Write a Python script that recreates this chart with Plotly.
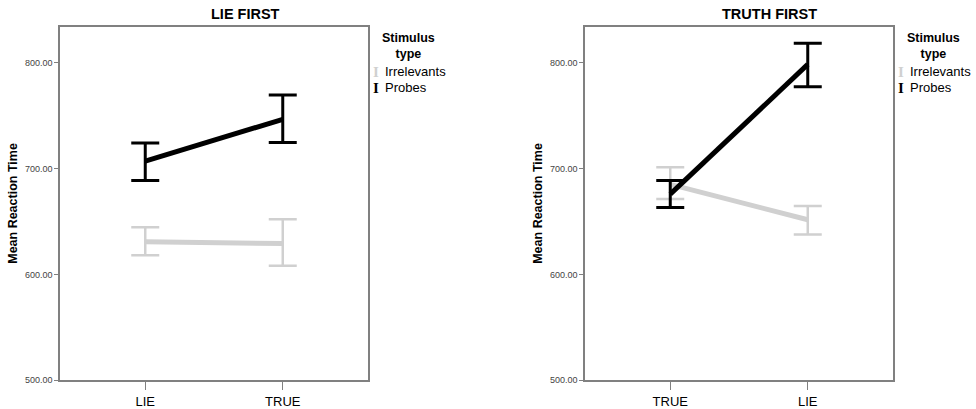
import plotly.graph_objects as go

# ---- data ----
lie_first_cats = ["LIE", "TRUE"]
lie_first_irr = [630.8, 629.2]
lie_first_irr_hi = [644.5, 652.2]
lie_first_irr_lo = [618.1, 608.2]
lie_first_prb = [706.9, 746.5]
lie_first_prb_hi = [724.2, 769.5]
lie_first_prb_lo = [688.8, 724.6]

truth_first_cats = ["TRUE", "LIE"]
truth_first_irr = [685.1, 651.6]
truth_first_irr_hi = [701.3, 664.6]
truth_first_irr_lo = [671.1, 637.6]
truth_first_prb = [675.8, 798.3]
truth_first_prb_hi = [688.8, 818.2]
truth_first_prb_lo = [663.1, 777.3]

y_ticks = [500, 600, 700, 800]
y_tick_text = ["500.00", "600.00", "700.00", "800.00"]
panel_titles = ["LIE FIRST", "TRUTH FIRST"]
series_names = ["Irrelevants", "Probes"]

GRAY = "#d0d0d0"
BLACK = "#000000"
FONT = "Liberation Sans, Arial, sans-serif"

fig = go.Figure()

def add_series(cats, mean, hi, lo, color, lw, ew, xa, ya, name):
    fig.add_trace(go.Scatter(
        x=cats, y=mean, mode="lines", name=name, showlegend=False,
        line=dict(color=color, width=lw),
        error_y=dict(type="data", symmetric=False,
                     array=[h - m for h, m in zip(hi, mean)],
                     arrayminus=[m - l for m, l in zip(mean, lo)],
                     color=color, thickness=ew, width=14),
        xaxis=xa, yaxis=ya))

add_series(lie_first_cats, lie_first_irr, lie_first_irr_hi, lie_first_irr_lo, GRAY, 5, 2.5, "x", "y", series_names[0])
add_series(lie_first_cats, lie_first_prb, lie_first_prb_hi, lie_first_prb_lo, BLACK, 5, 3, "x", "y", series_names[1])
add_series(truth_first_cats, truth_first_irr, truth_first_irr_hi, truth_first_irr_lo, GRAY, 5, 2.5, "x2", "y2", series_names[0])
add_series(truth_first_cats, truth_first_prb, truth_first_prb_hi, truth_first_prb_lo, BLACK, 5, 3, "x2", "y2", series_names[1])

W, H = 976, 409
ydom = [1 - 386 / H, 1 - 27 / H]
xdom1 = [60 / W, 368 / W]
xdom2 = [585 / W, 893 / W]

axis_common = dict(showline=True, linecolor="#808080", linewidth=1.5, mirror=True,
                   showgrid=False, zeroline=False, ticks="outside", tickcolor="#808080")

fig.update_layout(
    width=W, height=H, margin=dict(l=0, r=0, t=0, b=0),
    paper_bgcolor="white", plot_bgcolor="white", showlegend=False,
    font=dict(family=FONT, color="#000"),
    xaxis=dict(domain=xdom1, anchor="y", type="category", range=[-0.62, 1.62],
               ticklen=8, tickfont=dict(size=13, color="#000"), **axis_common),
    yaxis=dict(domain=ydom, anchor="x", range=[500, 834], tickvals=y_ticks, ticktext=y_tick_text,
               ticklen=4, tickfont=dict(size=9, color="#444"),
               title=dict(text="<b>Mean Reaction Time</b>", font=dict(size=12.5), standoff=5),
               **axis_common),
    xaxis2=dict(domain=xdom2, anchor="y2", type="category", range=[-0.62, 1.62],
                ticklen=8, tickfont=dict(size=13, color="#000"), **axis_common),
    yaxis2=dict(domain=ydom, anchor="x2", range=[500, 834], tickvals=y_ticks, ticktext=y_tick_text,
                ticklen=4, tickfont=dict(size=9, color="#444"),
                title=dict(text="<b>Mean Reaction Time</b>", font=dict(size=12.5), standoff=5),
                **axis_common),
)

# titles
for title, cx in zip(panel_titles, [245, 769]):
    fig.add_annotation(text=f"<b>{title}</b>", xref="paper", yref="paper",
                       x=cx / W, y=1 - 14 / H, showarrow=False,
                       font=dict(size=14.5, color="#000"), xanchor="center", yanchor="middle")

# legends
for lx in [373, 898]:
    fig.add_annotation(text="<b>Stimulus</b><br><b>type</b>", xref="paper", yref="paper",
                       x=(lx + 35) / W, y=1 - 47 / H, showarrow=False, align="center",
                       font=dict(size=12.5, color="#000"), xanchor="center", yanchor="middle")
    for name, color, yy in zip(series_names, [GRAY, BLACK], [73, 89]):
        fig.add_annotation(text="<b>I</b>", xref="paper", yref="paper",
                           x=(lx + 3) / W, y=1 - yy / H, showarrow=False,
                           font=dict(size=15, color=color, family="Liberation Serif, serif"),
                           xanchor="center", yanchor="middle")
        fig.add_annotation(text=name, xref="paper", yref="paper",
                           x=(lx + 10) / W, y=1 - yy / H, showarrow=False,
                           font=dict(size=13, color="#000"), xanchor="left", yanchor="middle")

fig.write_html("out.html", config={"displayModeBar": False},
               post_script="document.body.style.margin='0';")
